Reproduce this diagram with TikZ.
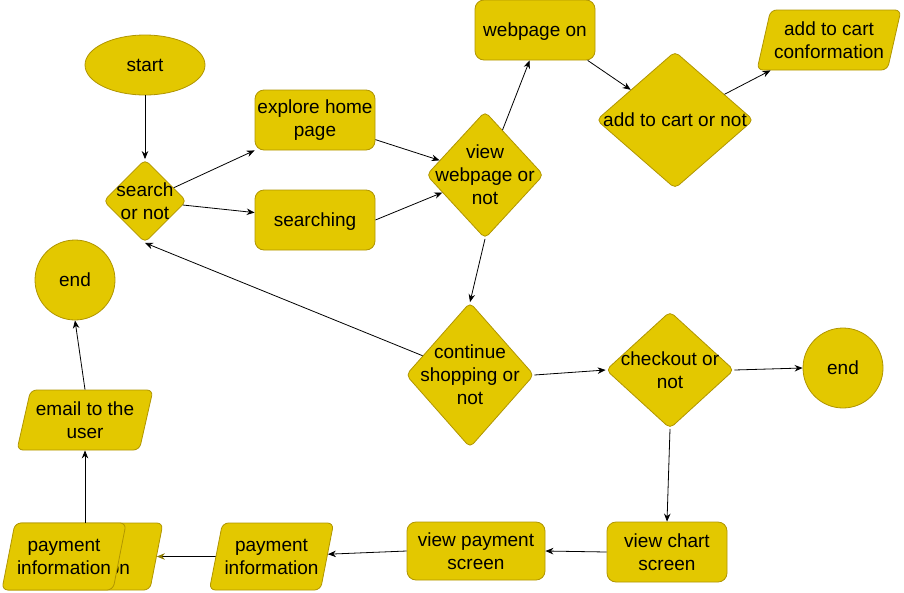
\documentclass[tikz,border=0pt]{standalone}
\usepackage{fontspec}
\setmainfont{Liberation Sans}
\usetikzlibrary{shapes.geometric,arrows.meta,calc}
\definecolor{fillc}{HTML}{E3C800}
\definecolor{strokec}{HTML}{B09500}
\definecolor{arrowol}{HTML}{8C7A00}
\begin{document}
\begin{tikzpicture}[x=1pt,y=-1pt,
  txtfont/.style={font=\fontsize{19}{23}\selectfont, text=black, align=center},
  base/.style={draw=strokec, fill=fillc, line width=0.8pt, txtfont, inner sep=2pt},
  rbox/.style={base, rectangle, rounded corners=9pt, minimum width=120pt, minimum height=60pt},
  oneline/.style={text height=13.9pt, text depth=0pt},
  ell/.style={base, ellipse, minimum width=120pt, minimum height=60pt},
  circ/.style={base, circle, minimum size=80pt},
  dia/.style={base, diamond, rounded corners=5pt, inner sep=0pt},
  lab/.style={txtfont, inner sep=0pt},
  para/.style={base, trapezium, trapezium left angle=71.6, trapezium right angle=108.4,
    trapezium stretches body, rounded corners=6pt, minimum height=60pt},
  arr/.style={draw=black, line width=0.8pt, -{Stealth[length=8pt,width=6.5pt]}},
]
\useasboundingbox (0,0) rectangle (904,592);

% nodes
\node[ell] (start) at (145,65) {start};
\node[dia, minimum width=83pt, minimum height=83pt,
      label={[lab]center:{search\\or not}}] (search) at (145,201) {};
\node[rbox] (explore) at (315,120) {explore home\\page};
\node[rbox, oneline] (searching) at (315,220) {searching};
\node[dia, minimum width=117pt, minimum height=127pt,
      label={[lab]center:{view\\webpage or\\not}}] (view) at (485,175) {};
\node[rbox, oneline] (webon) at (535,30) {webpage on};
\node[dia, minimum width=157pt, minimum height=137pt,
      label={[lab]center:{add to cart or not}}] (addcart) at (675,120) {};
\node[para, minimum width=144pt] (conf) at (829,40) {add to cart\\conformation};
\node[circ] (endL) at (75,280) {end};
\node[dia, minimum width=128pt, minimum height=145pt,
      label={[lab]center:{continue\\shopping or\\not}}] (cont) at (470,375) {};
\node[dia, minimum width=128pt, minimum height=117pt,
      label={[lab]center:{checkout or\\not}}] (check) at (670,370) {};
\node[circ] (endR) at (843,368) {end};
\node[rbox] (chart) at (667,552) {view chart\\screen};
\node[rbox, minimum width=138pt, minimum height=58pt] (pay) at (476,551) {view payment\\screen};
\node[para, minimum width=123pt, minimum height=67pt] (pinfo) at (271.5,556.5) {payment\\information};
\node[para, minimum width=160pt, minimum height=67pt] (pinfo2) at (83,556.5) {payment\\information};
\node[para, minimum width=122pt, minimum height=67pt] (pinfo3) at (64,556.5) {payment\\information};
\node[para, minimum width=136pt] (email) at (85,420) {email to the\\user};

% connectors
\draw[arr] (start.south) -- (search.north);
\draw[arr] (search) -- (explore.south west);
\draw[arr] (search) -- (searching.173);
\draw[arr] (explore.-18) -- (view);
\draw[arr] (searching.east) -- (view);
\draw[arr] (view) -- (webon.-100);
\draw[arr] (webon.-30) -- (addcart);
\draw[arr] (addcart) -- ([xshift=14pt]conf.bottom left corner);
\draw[arr] (view.south) -- (cont.north);
\draw[arr] (cont) -- (search.south);
\draw[arr] (cont.east) -- (check.west);
\draw[arr] (check.east) -- (endR.west);
\draw[arr] (check.south) -- (chart.north);
\draw[arr] (chart.west) -- (pay.east);
\draw[arr] (pay.west) -- (pinfo);
\draw[draw=black, line width=0.8pt, -{Stealth[length=8pt,width=6.5pt,color=arrowol]}] (pinfo) -- (pinfo2);
\draw[arr] (email.south |- pinfo3.north) -- (email.south);
\draw[arr] (email.north) -- (endL.south);
\end{tikzpicture}
\end{document}
